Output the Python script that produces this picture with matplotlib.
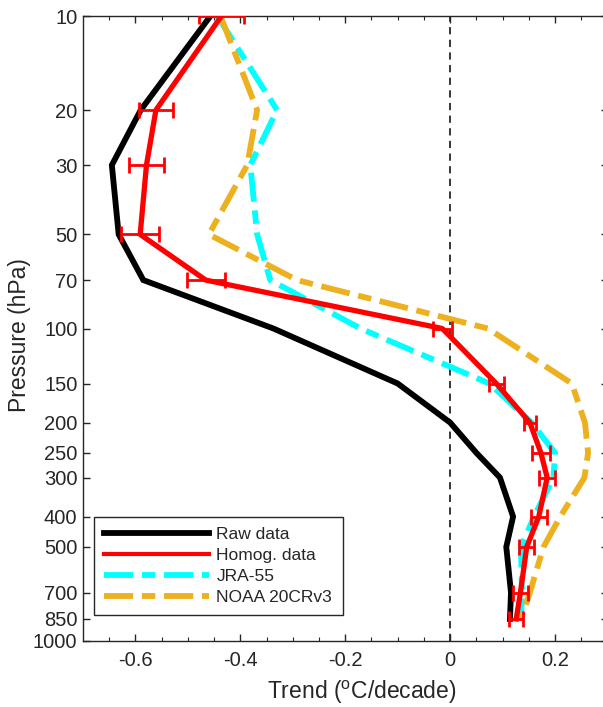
import matplotlib
matplotlib.use("Agg")
import matplotlib.pyplot as plt
from matplotlib.lines import Line2D
import numpy as np

plt.rcParams['font.family'] = ['Liberation Sans', 'DejaVu Sans']
plt.rcParams['mathtext.fontset'] = 'custom'
plt.rcParams['mathtext.rm'] = 'Liberation Sans'

# Pressure levels (hPa)
pressure = [10, 20, 30, 50, 70, 100, 150, 200, 250, 300, 400, 500, 700, 850]

# Temperature trends (degC/decade)
raw_trend = [-0.457, -0.59, -0.645, -0.632, -0.585, -0.337, -0.10, 0.0, 0.05,
             0.095, 0.12, 0.107, 0.116, 0.114]
homog_trend = [-0.436, -0.561, -0.579, -0.591, -0.466, -0.015, 0.088, 0.152,
               0.173, 0.185, 0.169, 0.146, 0.134, 0.126]
homog_err = [0.043, 0.033, 0.033, 0.036, 0.036, 0.018, 0.014, 0.012, 0.017,
             0.015, 0.015, 0.014, 0.014, 0.013]
jra55_trend = [-0.444, -0.33, -0.381, -0.368, -0.343, -0.171, 0.075, 0.155,
               0.2, 0.197, 0.16, 0.135, 0.137, 0.135]
noaa_trend = [-0.438, -0.368, -0.387, -0.46, -0.292, 0.072, 0.232, 0.257,
              0.263, 0.256, 0.21, 0.178, 0.152, 0.135]

series_labels = ['Raw data', 'Homog. data', 'JRA-55', 'NOAA 20CRv3']
ytick_vals = [10, 20, 30, 50, 70, 100, 150, 200, 250, 300, 400, 500, 700, 850, 1000]
xtick_vals = [-0.6, -0.4, -0.2, 0, 0.2]
xtick_labels = ['-0.6', '-0.4', '-0.2', '0', '0.2']

W, H = 603, 707
fig = plt.figure(figsize=(W / 100, H / 100), dpi=100)
ax_l, ax_r, ax_t, ax_b = 83, 607.5, 16, 641
ax = fig.add_axes([ax_l / W, 1 - ax_b / H, (ax_r - ax_l) / W, (ax_b - ax_t) / H])

spine_col = (0.15, 0.15, 0.15)
orange = (0.929, 0.694, 0.125)
dashdot = (0, (5.0, 1.5, 2.3, 1.5))

ax.axvline(0, color=spine_col, lw=1.3, ls=(0, (4, 3)), zorder=1)
ax.plot(raw_trend, pressure, color='black', lw=4.2, zorder=2,
        solid_joinstyle='miter')
ax.plot(jra55_trend, pressure, color='cyan', lw=4.2, ls=dashdot, zorder=3)
ax.plot(noaa_trend, pressure, color=orange, lw=4.2, ls=dashdot, zorder=3)
ax.errorbar(homog_trend, pressure, xerr=homog_err, color='red', lw=3.8,
            elinewidth=2.0, capsize=5.5, capthick=2.0, zorder=4)

ax.set_yscale('log')
ax.set_ylim(1000, 10)
ax.set_xlim(-0.7, 0.3)
ax.set_yticks(ytick_vals)
ax.set_yticklabels([str(v) for v in ytick_vals])
ax.yaxis.set_minor_locator(matplotlib.ticker.NullLocator())
ax.set_xticks(xtick_vals)
ax.set_xticklabels(xtick_labels)
ax.set_xticks(np.arange(-0.65, 0.3, 0.05), minor=True)

for s in ax.spines.values():
    s.set_color(spine_col)
    s.set_linewidth(1.0)

ax.tick_params(axis='both', which='major', direction='in', length=5,
               width=1.0, color=spine_col, labelsize=14.5, labelcolor=spine_col,
               top=True, right=True)
ax.tick_params(axis='x', which='major', pad=7)
ax.tick_params(axis='y', which='major', pad=4)
ax.tick_params(axis='x', which='minor', direction='in', length=3, width=0.8,
               color=spine_col, top=True)

ax.set_xlabel(r'Trend ($^{\mathrm{o}}$C/decade)', fontsize=16.5, color=spine_col)
ax.xaxis.set_label_coords((362 - ax_l) / (ax_r - ax_l), -0.061)
ax.set_ylabel('Pressure (hPa)', fontsize=16.5, color=spine_col)
ax.yaxis.set_label_coords(-0.1, 0.49)

leg_handles = [
    Line2D([], [], color='black', lw=4.2),
    Line2D([], [], color='red', lw=3.0),
    Line2D([], [], color='cyan', lw=4.2, ls=dashdot),
    Line2D([], [], color=orange, lw=4.2, ls=dashdot),
]
leg = ax.legend(leg_handles, series_labels, loc='lower left',
                bbox_to_anchor=((94 - ax_l) / (ax_r - ax_l), (ax_b - 615) / (ax_b - ax_t)),
                borderaxespad=0, fontsize=12.5, handlelength=6.0,
                handletextpad=0.45, labelspacing=0.32, borderpad=0.6,
                fancybox=False, framealpha=1, edgecolor=spine_col)
leg.get_frame().set_linewidth(1.0)
for t in leg.get_texts():
    t.set_color(spine_col)

fig.savefig('out.png', dpi=100)
